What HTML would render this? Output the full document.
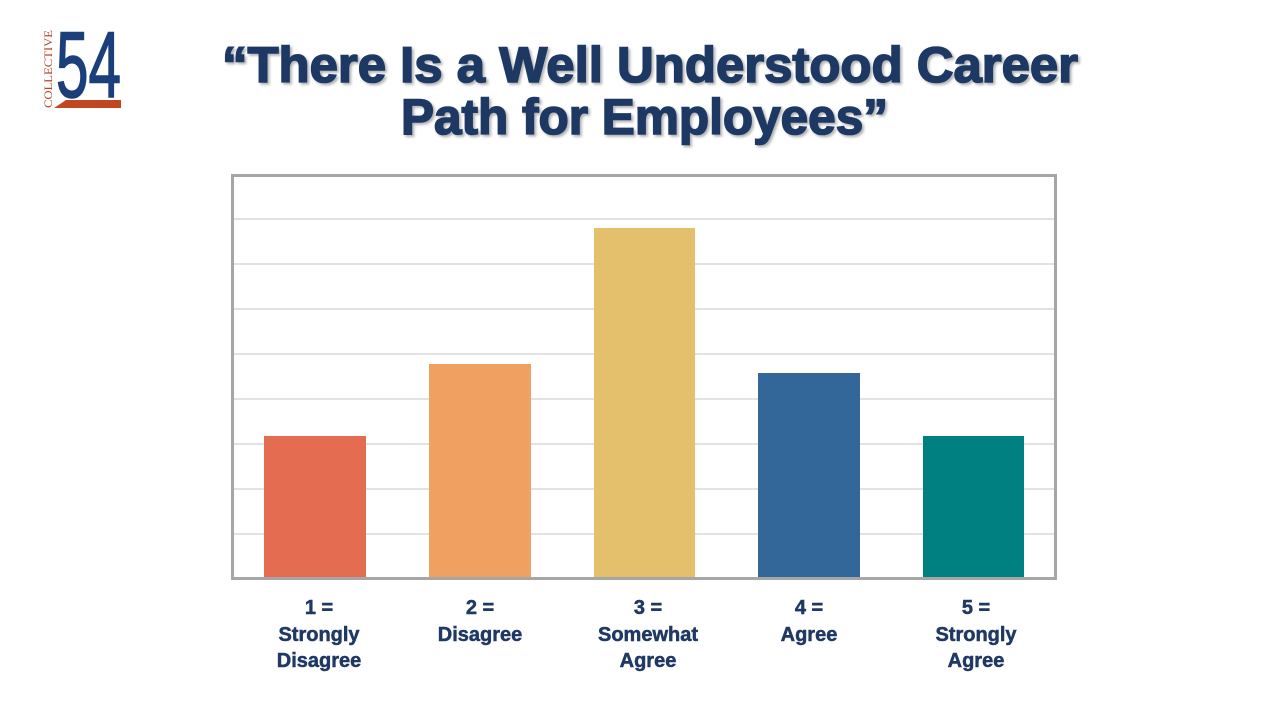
<!DOCTYPE html>
<html><head><meta charset="utf-8"><style>
html,body{margin:0;padding:0;background:#fff;}
body{width:1280px;height:720px;position:relative;overflow:hidden;font-family:"Liberation Sans",sans-serif;}
</style></head><body>
<svg width="1280" height="720" xmlns="http://www.w3.org/2000/svg" style="position:absolute;left:0;top:0">
<defs><filter id="sh" x="-5%" y="-20%" width="110%" height="140%"><feDropShadow dx="2" dy="2" stdDeviation="1.2" flood-color="#000" flood-opacity="0.3"/></filter></defs>
<!-- logo -->
<text x="0" y="0" transform="translate(52,108) rotate(-90)" font-family="Liberation Serif,serif" font-size="12" fill="#b5472a" textLength="78" lengthAdjust="spacingAndGlyphs">COLLECTIVE</text>
<text x="56" y="97" font-family="Liberation Sans,sans-serif" font-size="94" fill="#1b3f7a" stroke="#1b3f7a" stroke-width="1.5" textLength="65" lengthAdjust="spacingAndGlyphs">54</text>
<polygon points="54,108 66,100 121,100 121,108" fill="#c0471f"/>
<!-- title -->
<g filter="url(#sh)" font-weight="bold" font-size="50" fill="#1f3864" stroke="#1f3864" stroke-width="1.6" font-family="Liberation Sans,sans-serif">
<text x="222" y="82" textLength="856" lengthAdjust="spacingAndGlyphs">“There Is a Well Understood Career</text>
<text x="401" y="134" textLength="487" lengthAdjust="spacingAndGlyphs">Path for Employees”</text>
</g>
<!-- grid -->
<g stroke="#d9d9d9" stroke-width="1.5">
<line x1="234" x2="1056" y1="219" y2="219"/><line x1="234" x2="1056" y1="264" y2="264"/>
<line x1="234" x2="1056" y1="309" y2="309"/><line x1="234" x2="1056" y1="354" y2="354"/>
<line x1="234" x2="1056" y1="399" y2="399"/><line x1="234" x2="1056" y1="444" y2="444"/>
<line x1="234" x2="1056" y1="489" y2="489"/><line x1="234" x2="1056" y1="534" y2="534"/>
</g>
<rect x="264" y="436" width="102" height="143" fill="#e46c50"/>
<rect x="429" y="364" width="102" height="215" fill="#f0a060"/>
<rect x="594" y="228" width="101" height="351" fill="#e4c06c"/>
<rect x="758" y="373" width="102" height="206" fill="#336699"/>
<rect x="923" y="436" width="101" height="143" fill="#008080"/>
<rect x="232.5" y="175.5" width="823" height="403" fill="none" stroke="#a6a6a6" stroke-width="3"/>
<g font-weight="bold" font-size="20" fill="#1f3864" stroke="#1f3864" stroke-width="0.5" text-anchor="middle" font-family="Liberation Sans,sans-serif">
<text x="319" y="614">1 =</text><text x="319" y="641">Strongly</text><text x="319" y="667">Disagree</text>
<text x="480" y="641" dy="0">Disagree</text><text x="480" y="614">2 =</text>
<text x="648" y="614">3 =</text><text x="648" y="641">Somewhat</text><text x="648" y="667">Agree</text>
<text x="809" y="614">4 =</text><text x="809" y="641">Agree</text>
<text x="976" y="614">5 =</text><text x="976" y="641">Strongly</text><text x="976" y="667">Agree</text>
</g>
</svg>
</body></html>
